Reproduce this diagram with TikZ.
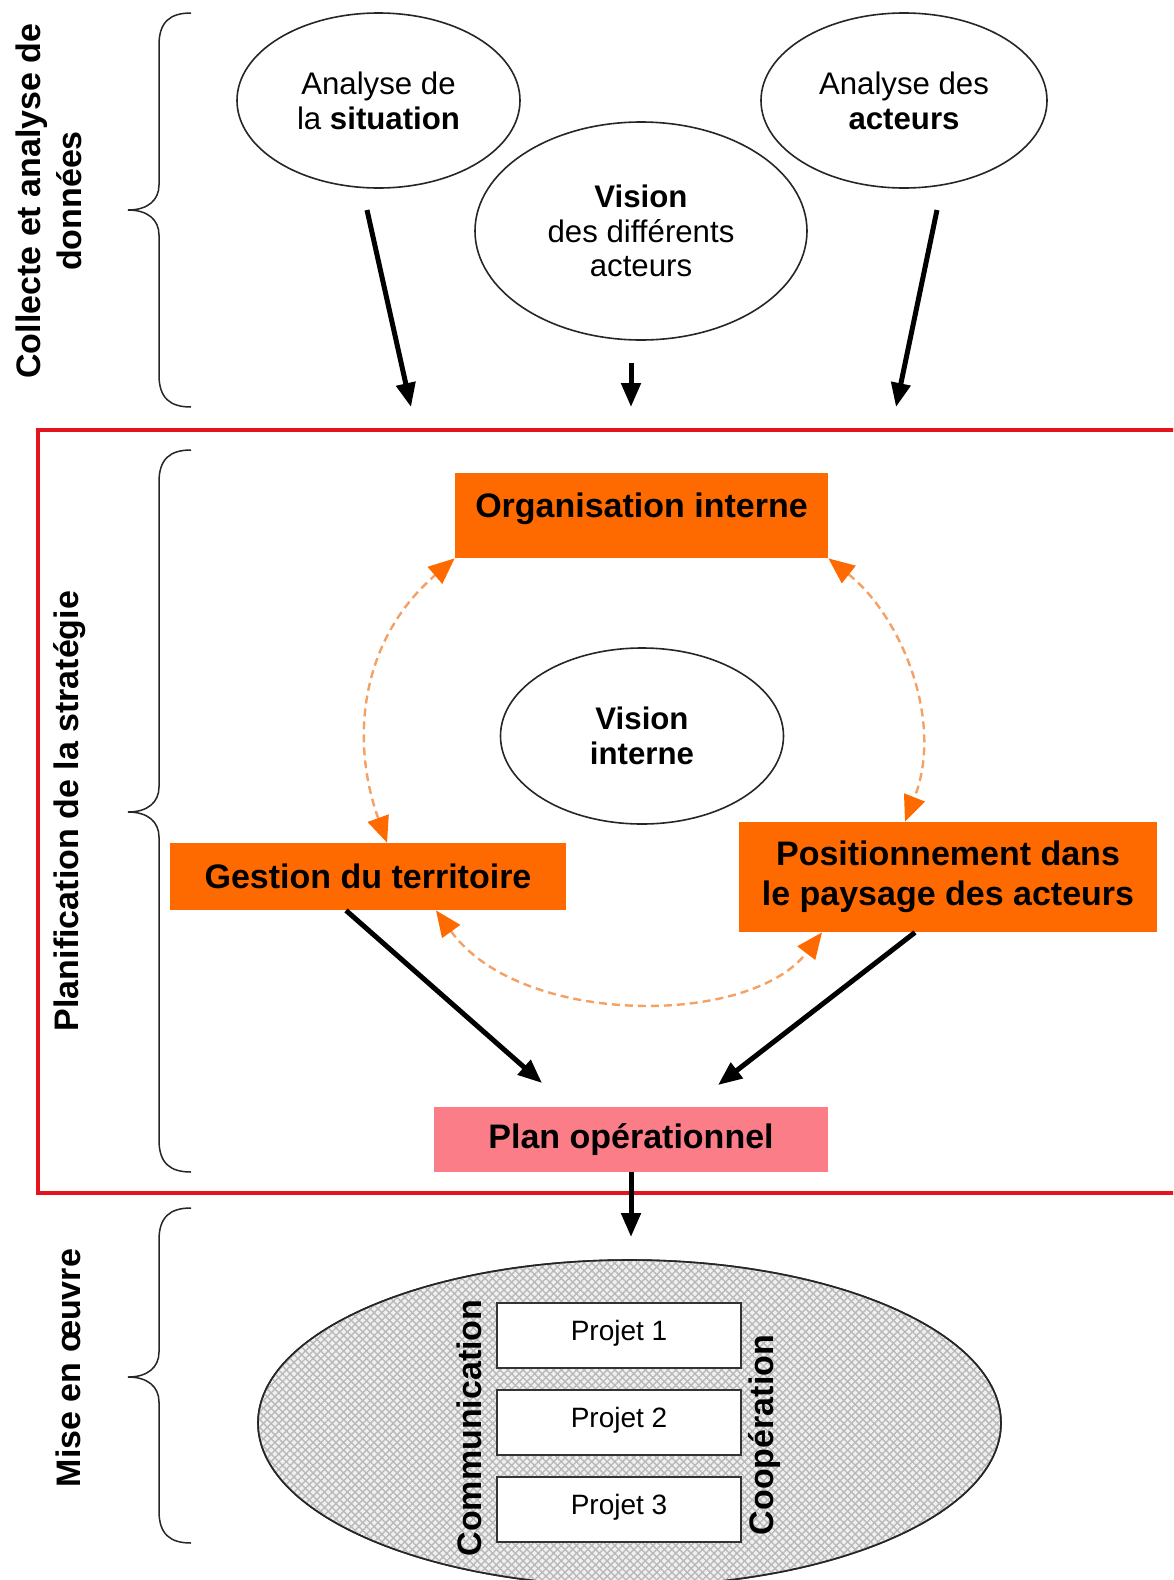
\documentclass[tikz,border=0pt]{standalone}
\usepackage{fontspec}
\setmainfont{Liberation Sans}
\usetikzlibrary{arrows.meta,shapes.geometric,patterns.meta}
\definecolor{orgc}{RGB}{255,106,0}
\definecolor{pinkc}{RGB}{250,125,135}
\definecolor{redc}{RGB}{228,20,30}
\definecolor{dashc}{RGB}{245,160,100}
\begin{document}
\begin{tikzpicture}[x=0.5pt,y=-0.5pt,
  ell/.style={draw=black!85, line width=0.8pt, ellipse, inner sep=0pt, align=center,
    font=\fontsize{15.6}{17.4}\selectfont},
  obox/.style={fill=orgc, inner sep=0pt, align=center,
    font=\fontsize{17}{20}\selectfont\bfseries},
  pbox/.style={draw=black!80, line width=0.8pt, fill=white, inner sep=0pt,
    minimum width=122pt, minimum height=32.5pt, text height=18.5pt, text depth=14pt,
    font=\fontsize{14}{16}\selectfont},
  side/.style={rotate=90, align=center, inner sep=0pt,
    font=\fontsize{17}{20.5}\selectfont\bfseries},
  blk/.style={line width=2.5pt, -{Triangle[length=12pt,width=9.5pt]}},
  dsh/.style={dashc, line width=1.2pt, dash pattern=on 4pt off 2.5pt,
    {Triangle[length=13pt,width=11pt,color=orgc]}-{Triangle[length=13pt,width=11pt,color=orgc]}},
  brc/.style={line width=0.75pt, black!85}
]
\useasboundingbox (0,0) rectangle (1173,1580);
\clip (0,0) rectangle (1173,1580);
\fill[white] (0,0) rectangle (1173,1580);

% ---------- braces ----------
\draw[brc] (191,13) .. controls (170,13) and (159,22) .. (159,45) -- (159,185)
  .. controls (159,200) and (148,210) .. (128,210) .. controls (148,210) and (159,220) .. (159,235)
  -- (159,375) .. controls (159,398) and (170,407) .. (191,407);
\draw[brc] (191,450) .. controls (170,450) and (159,459) .. (159,482) -- (159,787)
  .. controls (159,802) and (148,812) .. (128,812) .. controls (148,812) and (159,822) .. (159,837)
  -- (159,1140) .. controls (159,1163) and (170,1172) .. (191,1172);
\draw[brc] (191,1208) .. controls (170,1208) and (159,1217) .. (159,1240) -- (159,1352)
  .. controls (159,1367) and (148,1377) .. (128,1377) .. controls (148,1377) and (159,1387) .. (159,1402)
  -- (159,1511) .. controls (159,1534) and (170,1543) .. (191,1543);

% ---------- side labels ----------
\node[side] (lab1) at (49,201) {Collecte et analyse de\\données};
\node[side] (lab2) at (70,811) {Planification de la stratégie};
\node[side] (lab3) at (68,1368) {Mise en œuvre};

% ---------- top ellipses ----------
\node[ell, minimum width=141.5pt, minimum height=87.5pt] (sitA) at (378.5,100.5)
  {Analyse de\\la \textbf{situation}};
\node[ell, minimum width=143pt, minimum height=87.5pt] (actB) at (904,100.5)
  {Analyse des\\\textbf{acteurs}};
\node[ell, minimum width=166pt, minimum height=109pt] (visC) at (641,231)
  {\textbf{Vision}\\des différents\\acteurs};

\coordinate (a1s) at (367,210);  \coordinate (a1e) at (411,407);
\coordinate (a2s) at (631,363);  \coordinate (a2e) at (631,407);
\coordinate (a3s) at (937,210);  \coordinate (a3e) at (896,407);
\draw[blk] (a1s) -- (a1e);
\draw[blk] (a2s) -- (a2e);
\draw[blk] (a3s) -- (a3e);

% ---------- red frame ----------
\draw[redc, line width=2pt] (38,430) rectangle (1200,1193);

% ---------- strategy ----------
\node[obox, minimum width=186.5pt, minimum height=42.5pt, text height=22pt, text depth=20.5pt]
  (org) at (641.5,515.5) {Organisation interne};
\node[ell, font=\fontsize{15.6}{17.6}\selectfont\bfseries, minimum width=141.5pt, minimum height=88pt]
  (visI) at (642,736) {Vision\\interne};
\node[obox, minimum width=198pt, minimum height=33.5pt] (gest) at (368,876.5) {Gestion du territoire};
\node[obox, minimum width=209pt, minimum height=55pt] (pos) at (948,877)
  {Positionnement dans\\le paysage des acteurs};
\node[obox, fill=pinkc, minimum width=197pt, minimum height=32.5pt] (plan) at (631,1139.5)
  {Plan opérationnel};

% dashed cycle
\draw[dsh] ([xshift=9.5pt]gest.north) .. controls (350,740) and (360,640) .. (org.south west);
\draw[dsh] (org.south east) .. controls (900,615) and (945,720) .. ([xshift=-21.5pt]pos.north);
\draw[dsh] ([xshift=34pt]gest.south) .. controls (520,1027) and (750,1027) .. ([xshift=-63pt]pos.south);

\coordinate (g1e) at (542,1083);
\coordinate (p1e) at (718,1085);
\draw[blk] ([xshift=-11pt]gest.south) -- (g1e);
\draw[blk] ([xshift=-16.5pt]pos.south) -- (p1e);

\coordinate (pe) at (631,1237);
\draw[blk] (plan.south) -- (pe);

% ---------- implementation ----------
\node[ellipse, draw=black!85, line width=0.8pt, fill=gray!12, minimum width=371.5pt, minimum height=163pt,
  postaction={pattern={Lines[angle=45,distance=2.7pt,line width=0.7pt]}, pattern color=gray!55},
  postaction={pattern={Lines[angle=-45,distance=2.7pt,line width=0.7pt]}, pattern color=gray!55}]
  (impl) at (629.5,1423) {};
\draw[black!85, line width=0.8pt] (impl.center) ellipse [x radius=371.5, y radius=163];

\node[pbox] (p1) at (619,1335.5) {Projet 1};
\node[pbox] (p2) at (619,1422.5) {Projet 2};
\node[pbox] (p3) at (619,1509.5) {Projet 3};

\node[side] (comm) at (469,1428) {Communication};
\node[side] (coop) at (765,1435) {Coopération};
\end{tikzpicture}
\end{document}
